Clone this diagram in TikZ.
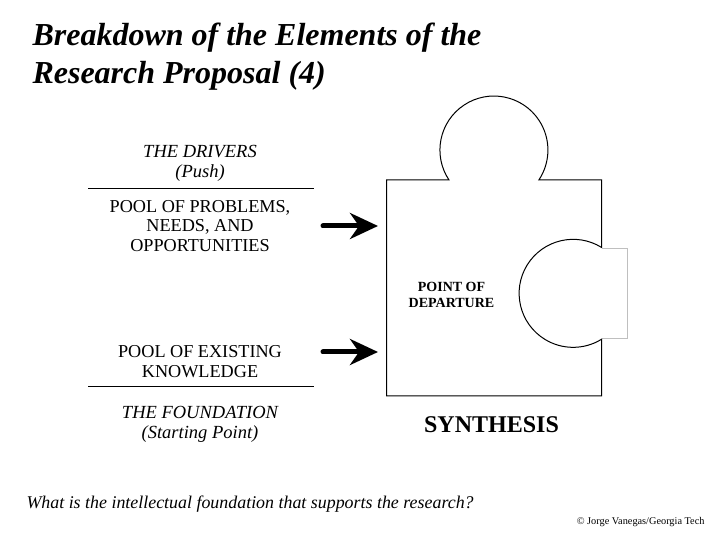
\documentclass[tikz,border=0pt]{standalone}
\usepackage{fontspec}
\setmainfont{Liberation Serif}
\usetikzlibrary{math, arrows.meta}

\tikzset{
    label/.style={align=center, font=\fontsize{18.2}{19.5}\selectfont},
    drive/.style={align=center, font=\fontsize{18.5}{20}\selectfont\itshape},
    push/.style={line width=5pt, line cap=round, -{Stealth[length=28pt, width=26pt, inset=9pt]}},
}

\begin{document}
\begin{tikzpicture}[x=1pt, y=1pt, line width=1pt]
    \tikzmath{
        \figweight=720;
        \figheight=540;
        \boxleft=386.5;
        \boxright=601.5;
        \boxtop=360;
        \boxbottom=144;
        \rad=54;
    }

    \useasboundingbox (0, 0) rectangle (\figweight, \figheight);
    \fill [white] (0, 0) rectangle (\figweight, \figheight);

    % title
    \node [anchor=base west, inner sep=0pt, font=\fontsize{32}{36}\selectfont\bfseries\itshape] (title1) at (32, 494) {Breakdown of the Elements of the};
    \node [anchor=base west, inner sep=0pt, font=\fontsize{32}{36}\selectfont\bfseries\itshape] (title2) at (32, 456) {Research Proposal (4)};

    % puzzle piece
    \draw [gray!50, line width=0.8pt] (\boxright, 292) -- (627.5, 292) -- (627.5, 202) -- (\boxright, 202);
    \draw (\boxleft, \boxbottom) -- (\boxleft, \boxtop) -- (449, \boxtop)
    arc [start angle=213.7, end angle=-33.7, radius=\rad]
    -- (\boxright, \boxtop) -- (\boxright, 292.6)
    arc [start angle=58.3, end angle=301.7, radius=\rad]
    -- (\boxright, \boxbottom) -- cycle;
    \coordinate (in1) at (378, 314);
    \coordinate (in2) at (378, 188);
    \node [align=center, font=\fontsize{14}{15.5}\selectfont\bfseries] (depart) at (451.5, 245) {POINT OF\\DEPARTURE};
    \node [font=\fontsize{24}{26}\selectfont\bfseries] (synth) at (491.5, 115) {SYNTHESIS};

    % upper block
    \node [drive] (drivers) at (200, 376.5) {THE DRIVERS\\(Push)};
    \coordinate (rule1a) at (88, 351);
    \coordinate (rule1b) at (314, 351);
    \draw (rule1a) -- (rule1b);
    \node [label] (problems) at (200, 314) {POOL OF PROBLEMS,\\NEEDS, AND\\OPPORTUNITIES};
    \coordinate (out1) at (323, 314);
    \draw [push] (out1) -- (in1);

    % lower block
    \node [label] (existing) at (200, 178.5) {POOL OF EXISTING\\KNOWLEDGE};
    \coordinate (rule2a) at (88, 153);
    \coordinate (rule2b) at (314, 153);
    \draw (rule2a) -- (rule2b);
    \node [drive] (found) at (200, 115.5) {THE FOUNDATION\\(Starting Point)};
    \coordinate (out2) at (323, 188);
    \draw [push] (out2) -- (in2);

    % footer
    \node [anchor=base west, inner sep=0pt, font=\fontsize{17.9}{20}\selectfont\itshape] (question) at (26, 31) {What is the intellectual foundation that supports the research?};
    \node [anchor=base east, inner sep=0pt, font=\fontsize{10.3}{12}\selectfont] (credit) at (705, 15.5) {© Jorge Vanegas/Georgia Tech};
\end{tikzpicture}
\end{document}
